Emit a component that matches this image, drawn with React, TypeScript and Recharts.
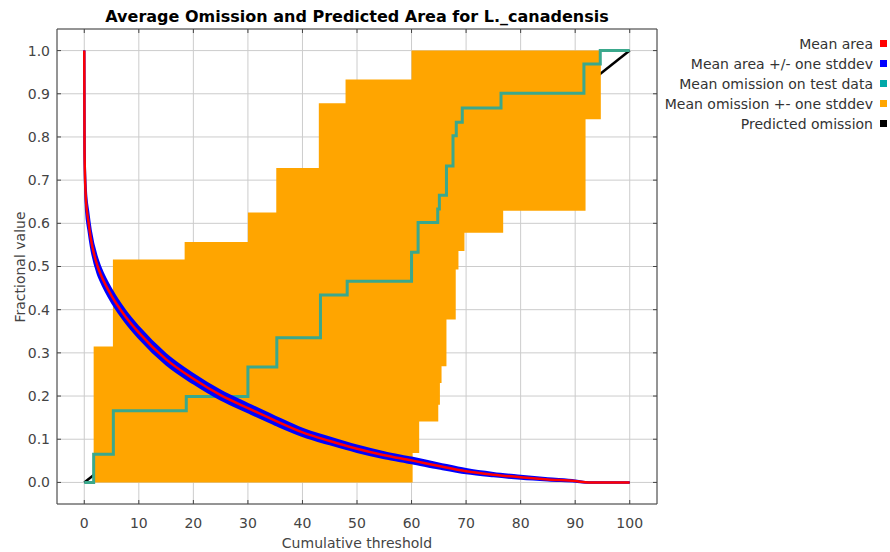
import React from 'react';
import { ComposedChart, Line, Area, XAxis, YAxis, CartesianGrid } from 'recharts';

const FONT = '"DejaVu Sans", "Liberation Sans", sans-serif';

const title = 'Average Omission and Predicted Area for L._canadensis';
const xLabel = 'Cumulative threshold';
const yLabel = 'Fractional value';

const xTicks = [0, 10, 20, 30, 40, 50, 60, 70, 80, 90, 100];
const yTicks = [0, 0.1, 0.2, 0.3, 0.4, 0.5, 0.6, 0.7, 0.8, 0.9, 1.0];

// Mean area curve and its stddev
const areaX = [0, 0.05, 0.3, 0.75, 1.2, 2.45, 3.0, 5.2, 7.5, 10, 15, 20, 25, 30, 35, 40, 45, 50, 55, 60, 65, 70, 75, 80, 85, 90, 92.5, 100];
const meanArea = [1.0, 0.76, 0.655, 0.605, 0.565, 0.5, 0.482, 0.428, 0.385, 0.347, 0.285, 0.24, 0.202, 0.172, 0.143, 0.116, 0.096, 0.078, 0.063, 0.051, 0.038, 0.026, 0.018, 0.012, 0.007, 0.003, 0.0, 0.0];
const areaStd = [0, 0.025, 0.024, 0.021, 0.019, 0.017, 0.016, 0.0145, 0.0135, 0.013, 0.012, 0.011, 0.0105, 0.01, 0.0095, 0.0085, 0.008, 0.0075, 0.007, 0.0065, 0.006, 0.005, 0.004, 0.0035, 0.0025, 0.0015, 0.0005, 0];

// Mean omission on test data (step function)
const omX = [0, 1.72, 5.33, 18.7, 30.0, 35.3, 43.3, 48.2, 60.0, 61.2, 64.8, 65.1, 66.4, 67.6, 68.2, 69.3, 76.4, 91.6, 94.6, 100];
const omTest = [0, 0.065, 0.166, 0.199, 0.267, 0.335, 0.434, 0.466, 0.533, 0.602, 0.633, 0.665, 0.733, 0.803, 0.834, 0.867, 0.901, 0.969, 1.0, 1.0];

// Mean omission +- one stddev band (step function)
const bandX = [1.72, 5.25, 18.4, 30.0, 35.2, 43.0, 47.9, 60.0, 60.2, 61.4, 64.9, 65.2, 65.5, 66.4, 68.1, 68.6, 69.7, 76.8, 91.9, 94.7];
const bandLow = [0, 0, 0, 0, 0, 0, 0, 0, 0.068, 0.141, 0.18, 0.23, 0.269, 0.377, 0.493, 0.536, 0.578, 0.629, 0.841, 0.841];
const bandHigh = [0.315, 0.516, 0.557, 0.625, 0.728, 0.878, 0.933, 1, 1, 1, 1, 1, 1, 1, 1, 1, 1, 1, 1, 1];

// Predicted omission
const predX = [0, 100];
const predOm = [0, 1];

const legendItems = [
  { label: 'Mean area', color: '#ff0000' },
  { label: 'Mean area +/- one stddev', color: '#0000ff' },
  { label: 'Mean omission on test data', color: '#00a8a8' },
  { label: 'Mean omission +- one stddev', color: '#ffa500' },
  { label: 'Predicted omission', color: '#000000' },
];

const EmptyTick = () => <g />;

export default function App() {
  const meanData = areaX.map((x, i) => ({ x, y: meanArea[i] }));
  const areaBand = areaX.map((x, i) => ({ x, v: [meanArea[i] - areaStd[i], meanArea[i] + areaStd[i]] }));
  const omData = omX.map((x, i) => ({ x, y: omTest[i] }));
  const bandData = bandX.map((x, i) => ({ x, v: [bandLow[i], bandHigh[i]] }));
  const predData = predX.map((x, i) => ({ x, y: predOm[i] }));

  const axisStroke = '#444444';
  const tickStyle = { fontSize: 14, fill: '#444444', fontFamily: FONT };

  return (
    <div style={{ position: 'absolute', left: 0, top: 0, width: 890, height: 552, background: '#ffffff', fontFamily: FONT }}>
      <ComposedChart width={890} height={552} margin={{ top: 28, right: 232, bottom: 18, left: 0 }}>
        <CartesianGrid stroke="#cccccc" strokeWidth={1} />
        <XAxis
          type="number"
          dataKey="x"
          domain={[-5, 105]}
          ticks={xTicks}
          interval={0}
          allowDataOverflow
          tickSize={-4}
          tickMargin={18}
          height={30}
          axisLine={{ stroke: axisStroke }}
          tickLine={{ stroke: axisStroke }}
          tick={tickStyle}
        />
        <XAxis
          xAxisId="top"
          orientation="top"
          type="number"
          dataKey="x"
          domain={[-5, 105]}
          ticks={xTicks}
          interval={0}
          allowDataOverflow
          tickSize={-4}
          height={1}
          axisLine={{ stroke: axisStroke }}
          tickLine={{ stroke: axisStroke }}
          tick={EmptyTick}
        />
        <YAxis
          type="number"
          domain={[-0.05, 1.05]}
          ticks={yTicks}
          interval={0}
          allowDataOverflow
          tickSize={-4}
          tickMargin={11}
          width={57}
          tickFormatter={(v: number) => v.toFixed(1)}
          axisLine={{ stroke: axisStroke }}
          tickLine={{ stroke: axisStroke }}
          tick={tickStyle}
        />
        <YAxis
          yAxisId="right"
          orientation="right"
          type="number"
          domain={[-0.05, 1.05]}
          ticks={yTicks}
          interval={0}
          allowDataOverflow
          tickSize={-4}
          width={1}
          axisLine={{ stroke: axisStroke }}
          tickLine={{ stroke: axisStroke }}
          tick={EmptyTick}
        />
        <Line data={predData} dataKey="y" type="linear" stroke="#000000" strokeWidth={2.5} dot={false} activeDot={false} isAnimationActive={false} zIndex={110} />
        <Area data={bandData} dataKey="v" type="stepAfter" fill="#ffa500" fillOpacity={1} stroke="none" dot={false} activeDot={false} isAnimationActive={false} zIndex={120} />
        <Line data={omData} dataKey="y" type="stepAfter" stroke="#3aa88c" strokeWidth={3} dot={false} activeDot={false} isAnimationActive={false} zIndex={130} />
        <Area data={areaBand} dataKey="v" type="monotone" fill="#0000ff" fillOpacity={1} stroke="#0000ff" strokeWidth={2} dot={false} activeDot={false} isAnimationActive={false} zIndex={140} />
        <Line data={meanData} dataKey="y" type="monotone" stroke="#ff0000" strokeWidth={2.5} dot={false} activeDot={false} isAnimationActive={false} zIndex={150} />
      </ComposedChart>

      <div style={{ position: 'absolute', left: 57, width: 600, top: 8.5, textAlign: 'center', fontWeight: 'bold', fontSize: 16, lineHeight: '16px', color: '#000', whiteSpace: 'nowrap' }}>
        {title}
      </div>
      <div style={{ position: 'absolute', left: 57, width: 600, top: 535.6, textAlign: 'center', fontSize: 14, lineHeight: '14px', color: '#444', whiteSpace: 'nowrap' }}>
        {xLabel}
      </div>
      <div style={{ position: 'absolute', left: 20, top: 267, transform: 'translate(-50%, -50%) rotate(-90deg)', fontSize: 14, lineHeight: '14px', color: '#444', whiteSpace: 'nowrap' }}>
        {yLabel}
      </div>
      <div style={{ position: 'absolute', right: 3, top: 33.5 }}>
        {legendItems.map((it) => (
          <div key={it.label} style={{ display: 'flex', justifyContent: 'flex-end', alignItems: 'center', height: 20, fontSize: 14, lineHeight: '20px', color: '#333', whiteSpace: 'nowrap' }}>
            <span>{it.label}</span>
            <span style={{ display: 'inline-block', width: 7, height: 7, background: it.color, marginLeft: 7 }} />
          </div>
        ))}
      </div>
    </div>
  );
}
